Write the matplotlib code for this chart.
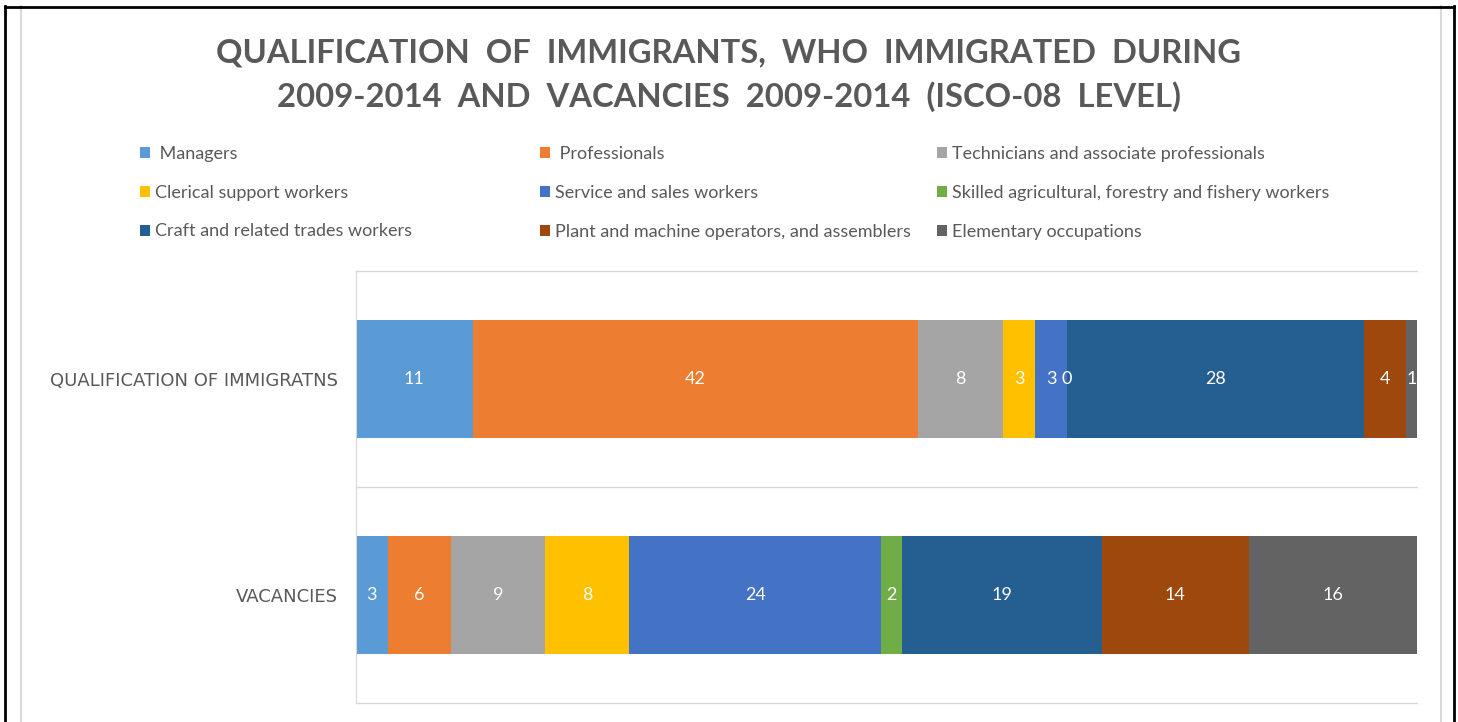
import numpy as np
import matplotlib
matplotlib.use("Agg")
import matplotlib.pyplot as plt
from matplotlib.lines import Line2D

plt.rcParams['font.family'] = ['Lato', 'DejaVu Sans']

# Dados (percentuais por grupo ocupacional, ISCO-08)
categorias = ["QUALIFICATION OF IMMIGRATNS", "VACANCIES"]
series = [" Managers", " Professionals", "Technicians and associate professionals",
          "Clerical support workers", "Service and sales workers",
          "Skilled agricultural, forestry and fishery workers",
          "Craft and related trades workers",
          "Plant and machine operators, and assemblers", "Elementary occupations"]
imigrantes = [11, 42, 8, 3, 3, 0, 28, 4, 1]
vagas = [3, 6, 9, 8, 24, 2, 19, 14, 16]
cores = ["#5B9BD5", "#ED7D31", "#A5A5A5", "#FFC000", "#4472C4",
         "#70AD47", "#255E91", "#9E480E", "#636363"]

valores = np.array([imigrantes, vagas], dtype=float)
# gráfico 100% empilhado: normaliza cada linha
perc = valores / valores.sum(axis=1, keepdims=True) * 100

cinza = "#595959"
fig = plt.figure(figsize=(14.58, 7.22), dpi=100)
ax = fig.add_axes([356/1458, 1 - 703/722, (1417-356)/1458, (703-271)/722])

y = np.arange(len(categorias))
esquerda = np.zeros(len(categorias))
barras = []
for i, nome in enumerate(series):
    b = ax.barh(y, perc[:, i], left=esquerda, height=0.55, color=cores[i],
                label=nome)
    barras.append(b)
    ax.bar_label(b, labels=[str(int(v)) for v in valores[:, i]],
                 label_type="center", color="white", fontsize=13)
    esquerda += perc[:, i]

ax.set_xlim(0, 100)
ax.set_ylim(1.5, -0.5)
ax.set_xticks([])
ax.set_yticks(y)
ax.set_yticklabels(categorias, color=cinza, fontsize=13, family="DejaVu Sans")
ax.tick_params(axis="y", length=0, pad=13)
for s in ["top", "right", "bottom"]:
    ax.spines[s].set_visible(False)
ax.spines["left"].set_color("#D9D9D9")
for h in [-0.5, 0.5, 1.5]:
    ax.axhline(h, color="#D9D9D9", lw=1, clip_on=False)

# titulo em duas linhas
fig.text(0.5, 1 - 62/722, "QUALIFICATION  OF  IMMIGRANTS,  WHO  IMMIGRATED  DURING",
         ha="center", va="baseline", fontsize=23.6, fontweight="bold", color=cinza)
fig.text(0.5, 1 - 107/722, "2009-2014  AND  VACANCIES  2009-2014  (ISCO-08  LEVEL)",
         ha="center", va="baseline", fontsize=23.6, fontweight="bold", color=cinza)

# legenda em tres colunas alinhadas
xs = [140, 540, 937]
for c in range(3):
    idx = [c, c + 3, c + 6]
    fig.legend([barras[k] for k in idx], [series[k] for k in idx],
               loc="upper left", bbox_to_anchor=(xs[c]/1458, 1 - 146/722),
               frameon=False, fontsize=13, labelcolor=cinza,
               handlelength=0.55, handleheight=0.55, handletextpad=0.3,
               labelspacing=1.26, borderpad=0, borderaxespad=0)

# moldura
for x0, cor, lw in [(5/1458, "black", 2), (1454/1458, "black", 2),
                    (21/1458, "#D9D9D9", 1.5), (1441/1458, "#D9D9D9", 1.5)]:
    fig.add_artist(Line2D([x0, x0], [0, 1 - 6/722], color=cor, lw=lw))
fig.add_artist(Line2D([5/1458, 1454/1458], [1 - 6.5/722, 1 - 6.5/722],
                      color="black", lw=2))

fig.savefig("out.png", dpi=100)
